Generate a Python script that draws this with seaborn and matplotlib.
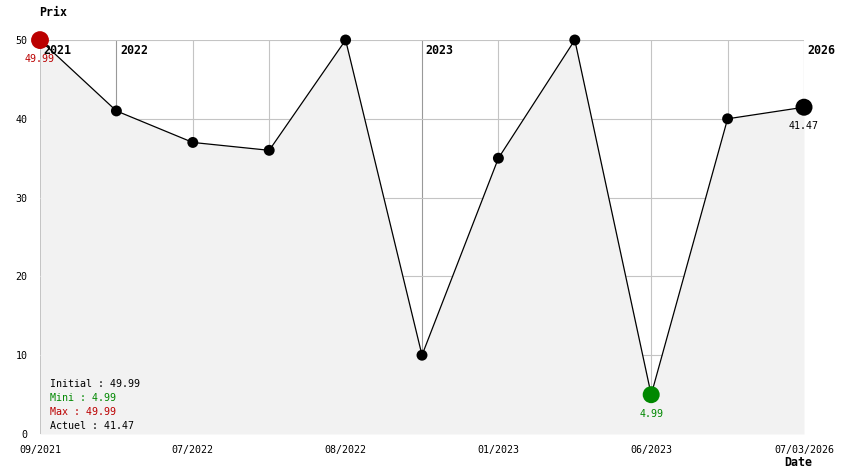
import pandas as pd
import matplotlib
matplotlib.use("Agg")
import matplotlib.pyplot as plt
import seaborn as sns

# Données
prix = [49.99, 41, 37, 36, 50, 10, 35, 50, 4.99, 40, 41.47]
etiquettes_x = ["09/2021", "07/2022", "08/2022", "01/2023", "06/2023", "07/03/2026"]
pos_etiquettes = [0, 2, 4, 6, 8, 10]
annees = ["2021", "2022", "2023", "2026"]
pos_annees = [0, 1, 5, 10]

df = pd.DataFrame({"idx": range(len(prix)), "prix": prix})

sns.set_style("white")
plt.rcParams["font.family"] = ["DejaVu Sans Mono"]
plt.rcParams["font.size"] = 7.2
plt.rcParams["text.color"] = "black"
plt.rcParams["xtick.color"] = "black"
plt.rcParams["ytick.color"] = "black"

fig = plt.figure(figsize=(8.44, 4.74), dpi=100)
ax = fig.add_axes([40 / 844, 40 / 474, 764 / 844, 394 / 474])

# grille (sous le remplissage)
for i in df["idx"]:
    c = "#999999" if i in pos_annees else "#c4c4c4"
    ax.axvline(i, color=c, lw=0.8, zorder=0)
for yv in [10, 20, 30, 40, 50]:
    ax.axhline(yv, color="#c4c4c4", lw=0.8, zorder=0)

ax.fill_between(df["idx"], df["prix"], 0, color="#f2f2f2", lw=0, zorder=1)

# années en haut (sous les points)
for p, a in zip(pos_annees, annees):
    ax.text(p + 0.05, 48.7, a, fontweight="bold", fontsize=8.4, ha="left",
            va="center", zorder=1.5)

sns.lineplot(data=df, x="idx", y="prix", color="black", lw=0.9, ax=ax, zorder=2)
sns.scatterplot(data=df.iloc[1:-1], x="idx", y="prix", color="black", s=62,
                edgecolor="none", ax=ax, zorder=3)

imin = prix.index(min(prix))
ax.scatter([0], [prix[0]], s=165, color="#bb0000", edgecolor="none", zorder=4)
ax.scatter([imin], [prix[imin]], s=150, color="#008800", edgecolor="none", zorder=4)
ax.scatter([10], [prix[-1]], s=150, color="black", edgecolor="none", zorder=4)
for coll in ax.collections:
    coll.set_clip_on(False)

ax.text(0, prix[0] - 1.8, "49.99", color="#bb0000", ha="center", va="top", zorder=5)
ax.text(imin, prix[imin] - 1.8, "4.99", color="#008800", ha="center", va="top", zorder=5)
ax.text(10, prix[-1] - 1.8, "41.47", color="black", ha="center", va="top", zorder=5)

legende = [("Initial : 49.99", "black"), ("Mini : 4.99", "#008800"),
           ("Max : 49.99", "#bb0000"), ("Actuel : 41.47", "black")]
for k, (t, c) in enumerate(legende):
    ax.text(0.13, 6.3 - k * 1.78, t, color=c, ha="left", va="center", zorder=5)

ax.set_xlim(0, 10)
ax.set_ylim(0, 50)
ax.set_xticks(pos_etiquettes)
ax.set_xticklabels(etiquettes_x)
ax.set_yticks([0, 10, 20, 30, 40, 50])
ax.tick_params(length=0, pad=8)
ax.tick_params(axis="y", pad=9)
ax.set_xlabel("")
ax.set_ylabel("")
sns.despine(ax=ax, left=True, bottom=True)

fig.text(39 / 844, 1 - 12 / 474, "Prix", fontweight="bold", fontsize=8.4,
         ha="left", va="center")
fig.text(784 / 844, 1 - 463 / 474, "Date", fontweight="bold", fontsize=8.4,
         ha="left", va="center")

fig.savefig("out.png", dpi=100)
